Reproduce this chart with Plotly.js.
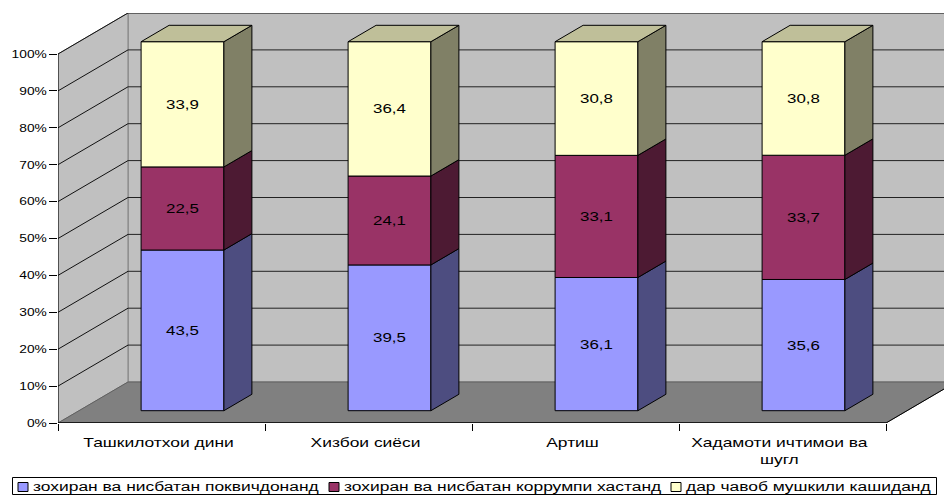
<!DOCTYPE html>
<html>
<head>
<meta charset="utf-8">
<script src="https://cdn.plot.ly/plotly-3.0.1.min.js"></script>
<style>html,body{margin:0;padding:0;background:#fff}#c{width:944px;height:495px}</style>
</head>
<body>
<div id="c"></div>
<script>
var categories = ['Ташкилотхои дини', 'Хизбои сиёси', 'Артиш', 'Хадамоти ичтимои ва<br>шугл'];
var seriesNames = ['зохиран ва нисбатан поквичдонанд', 'зохиран ва нисбатан коррумпи хастанд', 'дар чавоб мушкили кашиданд'];
var seriesA = [43.5, 39.5, 36.1, 35.6];
var seriesB = [22.5, 24.1, 33.1, 33.7];
var seriesC = [33.9, 36.4, 30.8, 30.8];
var yTicks = [0, 10, 20, 30, 40, 50, 60, 70, 80, 90, 100];
var frontColors = ['#9999FF', '#993366', '#FFFFCC'];
var sideColors = ['#4D4D80', '#4D1A33', '#808066'];
var topColor = '#BFBF99';

var W = 944, H = 495, L = 58, T = 13, B = 72;
var catPx = 207, pctPx = 3.69;
var depthX = 70 / catPx, depthY = 41 / pctPx;
var xMin = -0.5, xMax = xMin + (W - L) / catPx;
var yMax = (H - T - B) / pctPx;
var xEnd = categories.length - 0.5;
var barW = 0.4, front = 0.3, deep = 0.4;
var font = 'Liberation Sans';

var all = [seriesA, seriesB, seriesC];
var idx = categories.map(function (_, i) { return i; });
var totals = idx.map(function (i) { return seriesA[i] + seriesB[i] + seriesC[i]; });
var baseY = front * depthY, shiftX = front * depthX;
var traces = [], cum = idx.map(function () { return 0; });
var tops = [];

all.forEach(function (vals, s) {
  var norm = vals.map(function (v, i) { return v / totals[i] * 100; });
  var bases = cum.map(function (c) { return c + baseY; });
  traces.push({
    type: 'bar', name: seriesNames[s],
    x: idx.map(function (i) { return i + shiftX; }), y: norm, base: bases, width: barW,
    marker: { color: frontColors[s], line: { color: '#000', width: 1 } },
    text: vals.map(function (v) { return v.toFixed(1).replace('.', ','); }),
    textposition: 'inside', insidetextanchor: 'middle', textangle: 0,
    constraintext: 'none',
    insidetextfont: { family: font, size: 13, color: '#000' },
    hoverinfo: 'skip'
  });
  var sx = [], sy = [];
  idx.forEach(function (i) {
    var r = i + shiftX + barW / 2, y0 = bases[i], y1 = y0 + norm[i];
    var dx = deep * depthX, dy = deep * depthY;
    sx.push(r, r + dx, r + dx, r, r, null);
    sy.push(y0, y0 + dy, y1 + dy, y1, y0, null);
    if (s === all.length - 1) tops.push({ i: i, y: y1 });
  });
  traces.push({
    type: 'scatter', mode: 'lines', x: sx, y: sy, fill: 'toself', fillcolor: sideColors[s],
    line: { color: '#000', width: 1 }, showlegend: false, hoverinfo: 'skip'
  });
  cum = cum.map(function (c, i) { return c + norm[i]; });
});

var tx = [], ty = [];
tops.forEach(function (t) {
  var l = t.i + shiftX - barW / 2, r = l + barW, dx = deep * depthX, dy = deep * depthY;
  tx.push(l, l + dx, r + dx, r, l, null);
  ty.push(t.y, t.y + dy, t.y + dy, t.y, t.y, null);
});
traces.push({
  type: 'scatter', mode: 'lines', x: tx, y: ty, fill: 'toself', fillcolor: topColor,
  line: { color: '#000', width: 1 }, showlegend: false, hoverinfo: 'skip'
});

function poly(pts, fill, line) {
  var p = pts.map(function (q, k) { return (k ? 'L' : 'M') + q[0] + ',' + q[1]; }).join('') + 'Z';
  return { type: 'path', path: p, xref: 'x', yref: 'y', layer: 'below', fillcolor: fill, line: { color: line, width: 1 } };
}
function seg(x0, y0, x1, y1, c, w) {
  return { type: 'line', x0: x0, y0: y0, x1: x1, y1: y1, xref: 'x', yref: 'y', layer: 'below', line: { color: c, width: w } };
}
var far = xEnd + depthX;
var shapes = [
  poly([[xMin + depthX, depthY], [far, depthY], [far, 100 + depthY], [xMin + depthX, 100 + depthY]], '#C0C0C0', '#808080'),
  poly([[xMin, 0], [xMin + depthX, depthY], [xMin + depthX, 100 + depthY], [xMin, 100]], '#C0C0C0', '#808080'),
  poly([[xMin, 0], [xEnd, 0], [far, depthY], [xMin + depthX, depthY]], '#808080', '#606060')
];
yTicks.slice(1).forEach(function (v) {
  shapes.push(seg(xMin, v, xMin + depthX, v + depthY, '#111', 1));
  shapes.push(seg(xMin + depthX, v + depthY, far, v + depthY, '#222', 1));
});
shapes.push(seg(xMin, 0, xMin, 100, '#000', 1));
shapes.push(seg(xMin, 0, xEnd, 0, '#000', 1.5));
shapes.push(seg(xEnd, 0, far, depthY, '#000', 1));

function px(x) { return (x - L) / (W - L); }
function py(y) { return (H - B - y) / (H - T - B); }
function box(x0, y0, x1, y1, fill) {
  return { type: 'rect', xref: 'paper', yref: 'paper', x0: px(x0), x1: px(x1), y0: py(y0), y1: py(y1),
    layer: 'above', fillcolor: fill, line: { color: '#000', width: 1 } };
}
shapes.push(box(12.5, 477.5, 936.5, 494.5, '#fff'));
var swatchX = [18, 329, 671];
var annotations = seriesNames.map(function (n, s) {
  shapes.push(box(swatchX[s], 482.5, swatchX[s] + 10, 491.5, frontColors[s]));
  return { xref: 'paper', yref: 'paper', x: px(swatchX[s] + 13), y: py(487), xanchor: 'left', yanchor: 'middle',
    showarrow: false, text: n, font: { family: font, size: 13.5, color: '#000' } };
});

var boundaries = categories.map(function (_, i) { return i - 0.5; }).concat([xEnd]);

var layout = {
  width: W, height: H, showlegend: false, barmode: 'overlay',
  paper_bgcolor: '#fff', plot_bgcolor: 'rgba(0,0,0,0)',
  margin: { l: L, r: 0, t: T, b: B, pad: 0 },
  font: { family: font, color: '#000' },
  xaxis: {
    range: [xMin, xMax], showgrid: false, zeroline: false, showline: false,
    tickmode: 'array', tickvals: idx, ticktext: categories, ticks: '', ticklen: 0,
    ticklabelstandoff: 10, tickangle: 0,
    tickfont: { family: font, size: 13, color: '#000' },
    minor: { tickmode: 'array', tickvals: boundaries, ticks: 'outside', ticklen: 7, tickwidth: 1, tickcolor: '#000', showgrid: false }
  },
  yaxis: {
    range: [0, yMax], showgrid: false, zeroline: false, showline: false,
    tickmode: 'array', tickvals: yTicks, ticktext: yTicks.map(function (v) { return v + '%'; }),
    ticks: 'outside', ticklen: 8, tickwidth: 1, tickcolor: '#000',
    tickfont: { family: font, size: 11, color: '#000' }
  },
  shapes: shapes,
  annotations: annotations
};

// The reference's text is horizontally stretched Arial; widen each label about its anchor.
function widen(selector, factor, pivot, shift) {
  document.querySelectorAll(selector).forEach(function (t) {
    var b = t.getBBox();
    var p = pivot === 'right' ? b.x + b.width : pivot === 'left' ? b.x : b.x + b.width / 2;
    var old = t.getAttribute('transform') || '';
    t.setAttribute('transform', old + ' translate(' + (p + (shift || 0)) + ',0) scale(' + factor + ',1) translate(' + (-p) + ',0)');
  });
}
Plotly.newPlot('c', traces, layout, { staticPlot: true, displayModeBar: false }).then(function () {
  widen('.xtick text', 1.34, 'center', -3);
  widen('.ytick text', 1.25, 'right', 0);
  widen('.bartext', 1.3, 'center', 0);
  widen('.annotation-text', 1.29, 'left', 0);
});
</script>
</body>
</html>
